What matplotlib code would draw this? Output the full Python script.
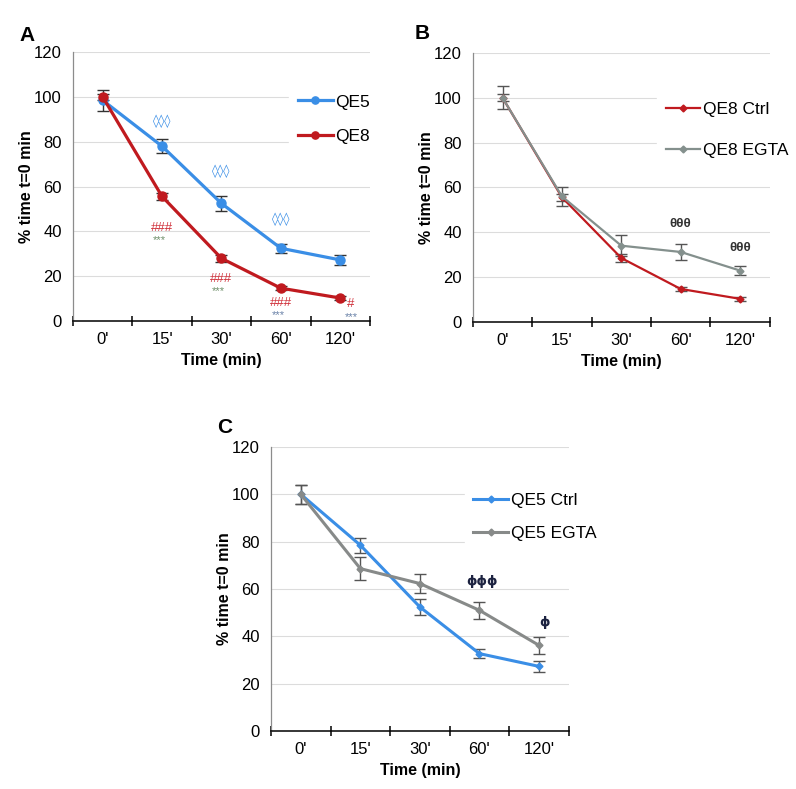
import matplotlib
matplotlib.use("Agg")
import matplotlib.pyplot as plt
from matplotlib.ticker import FixedLocator

plt.rcParams['font.family'] = ['Liberation Sans', 'DejaVu Sans']

# time points (categories on the x axis)
times = ["0'", "15'", "30'", "60'", "120'"]

# panel A
qe5 = [98.5, 78, 52.5, 32.5, 27.3]
qe5_err = [4.6, 3.2, 3.3, 2.0, 2.4]
qe8 = [100, 55.6, 28, 14.7, 10.3]
qe8_err = [1.5, 1.5, 1.5, 1.0, 0.8]

# panel B
qe8_ctrl = [100, 55.6, 28.5, 14.7, 10.3]
qe8_ctrl_err = [1.5, 1.5, 1.8, 1.0, 0.8]
qe8_egta = [100, 56, 34, 31.2, 22.9]
qe8_egta_err = [5.0, 4.2, 4.8, 3.7, 2.0]

# panel C
qe5_ctrl = [100, 78.5, 52.4, 32.7, 27.3]
qe5_ctrl_err = [4.0, 3.2, 3.2, 2.0, 2.3]
qe5_egta = [100, 68.6, 62.3, 51, 36.2]
qe5_egta_err = [4.0, 5.0, 3.9, 3.5, 3.7]

# significance marks: (x index, y value)
a_diamond_x = [1, 2, 3]
a_diamond_y = [89, 67, 45.5]
a_hash_x = [1, 2, 3, 4.18]
a_hash_y = [41.7, 19, 7.9, 7.6]
a_hash_txt = ["###", "###", "###", "#"]
a_star_x = [0.95, 1.95, 2.95, 4.18]
a_star_y = [36, 13.4, 2.7, 2.0]
b_theta_x = [3, 4]
b_theta_y = [43.7, 33]
c_phi_x = [3.05, 4.1]
c_phi_y = [63, 46]
c_phi_txt = ["ϕϕϕ", "ϕ"]

blue = '#3a8ee6'
red = '#c01a1f'
gray_b = '#84908d'
gray_c = '#878a89'

fig = plt.figure(figsize=(7.96, 7.89), dpi=100)
axA = fig.add_axes([0.0917, 0.593, 0.373, 0.341])
axB = fig.add_axes([0.594, 0.592, 0.373, 0.341])
axC = fig.add_axes([0.3405, 0.0735, 0.374, 0.36])

x = list(range(len(times)))


def style_axes(ax):
    ax.set_xlim(-0.5, 4.5)
    ax.set_ylim(0, 120)
    ax.set_yticks([0, 20, 40, 60, 80, 100, 120])
    ax.set_xticks(x)
    ax.set_xticklabels(times)
    ax.xaxis.set_minor_locator(FixedLocator([-0.5, 0.5, 1.5, 2.5, 3.5, 4.5]))
    ax.tick_params(axis='x', which='major', length=0, pad=8, labelsize=12)
    ax.tick_params(axis='x', which='minor', direction='inout', length=7, width=1.1, color='black')
    ax.tick_params(axis='y', length=0, pad=8, labelsize=12)
    ax.grid(axis='y', color='#dcdcdc', lw=0.8)
    ax.set_axisbelow(True)
    for s in ['top', 'right']:
        ax.spines[s].set_visible(False)
    ax.spines['bottom'].set_color('black')
    ax.spines['bottom'].set_linewidth(1.1)
    ax.spines['left'].set_color('#8c8c8c')
    ax.spines['left'].set_linewidth(0.9)
    ax.set_xlabel("Time (min)", fontsize=11.5, fontweight='bold', labelpad=4)
    ax.set_ylabel("% time t=0 min", fontsize=11.5, fontweight='bold', labelpad=0)


# ---- panel A ----
style_axes(axA)
axA.errorbar(x, qe5, yerr=qe5_err, fmt='none', ecolor='#333333', elinewidth=1, capsize=4, zorder=2)
axA.errorbar(x, qe8, yerr=qe8_err, fmt='none', ecolor='#333333', elinewidth=1, capsize=4, zorder=2)
axA.plot(x, qe5, color=blue, lw=2.3, marker='o', ms=6.5, label='QE5', zorder=3)
axA.plot(x, qe8, color=red, lw=2.3, marker='o', ms=6.5, label='QE8', zorder=4)
for xi, yi in zip(a_diamond_x, a_diamond_y):
    axA.text(xi, yi, "◊◊◊", color=blue, fontsize=9, ha='center', va='center', family='DejaVu Sans')
for xi, yi, t in zip(a_hash_x, a_hash_y, a_hash_txt):
    axA.text(xi, yi, t, color='#d0303a', fontsize=9.5, ha='center', va='center')
for i, (xi, yi) in enumerate(zip(a_star_x, a_star_y)):
    c = '#6f8f6a' if i < 2 else '#6a82a8'
    axA.text(xi, yi, "***", color=c, fontsize=8, ha='center', va='center')
axA.legend(loc='upper left', bbox_to_anchor=(0.728, 0.875), frameon=True, facecolor='white',
           edgecolor='white', framealpha=1, fancybox=False, fontsize=12.5, handlelength=2.0,
           handletextpad=0.15, markerscale=0.8, labelspacing=1.1, borderpad=0.5, borderaxespad=0)
fig.text(0.025, 0.955, "A", fontsize=15, fontweight='bold', va='center')

# ---- panel B ----
style_axes(axB)
axB.errorbar(x, qe8_ctrl, yerr=qe8_ctrl_err, fmt='none', ecolor='#555555', elinewidth=1, capsize=4, zorder=2)
axB.errorbar(x, qe8_egta, yerr=qe8_egta_err, fmt='none', ecolor='#555555', elinewidth=1, capsize=4, zorder=2)
axB.plot(x, qe8_ctrl, color=red, lw=1.6, marker='D', ms=3.5, label='QE8 Ctrl', zorder=3)
axB.plot(x, qe8_egta, color=gray_b, lw=1.6, marker='D', ms=3.5, label='QE8 EGTA', zorder=4)
for xi, yi in zip(b_theta_x, b_theta_y):
    axB.text(xi, yi, "θθθ", color='#333333', fontsize=9.5, ha='center', va='center', fontweight='bold')
axB.legend(loc='upper left', bbox_to_anchor=(0.62, 0.85), frameon=True, facecolor='white',
           edgecolor='white', framealpha=1, fancybox=False, fontsize=12.5, handlelength=2.0,
           handletextpad=0.15, labelspacing=1.5, borderpad=0.5, borderaxespad=0)
fig.text(0.521, 0.958, "B", fontsize=15, fontweight='bold', va='center')

# ---- panel C ----
style_axes(axC)
axC.errorbar(x, qe5_ctrl, yerr=qe5_ctrl_err, fmt='none', ecolor='#555555', elinewidth=1, capsize=4, zorder=2)
axC.errorbar(x, qe5_egta, yerr=qe5_egta_err, fmt='none', ecolor='#555555', elinewidth=1, capsize=4, zorder=2)
axC.plot(x, qe5_ctrl, color=blue, lw=2.2, marker='D', ms=3.5, label='QE5 Ctrl', zorder=3)
axC.plot(x, qe5_egta, color=gray_c, lw=2.2, marker='D', ms=3.5, label='QE5 EGTA', zorder=4)
for xi, yi, t in zip(c_phi_x, c_phi_y, c_phi_txt):
    axC.text(xi, yi, t, color='#1c2240', fontsize=9.5, ha='center', va='center', fontweight='bold',
             family='DejaVu Sans')
axC.legend(loc='upper left', bbox_to_anchor=(0.65, 0.87), frameon=True, facecolor='white',
           edgecolor='white', framealpha=1, fancybox=False, fontsize=12.5, handlelength=2.0,
           handletextpad=0.15, labelspacing=1.05, borderpad=0.5, borderaxespad=0)
fig.text(0.273, 0.458, "C", fontsize=15, fontweight='bold', va='center')

fig.savefig("out.png", dpi=100)
